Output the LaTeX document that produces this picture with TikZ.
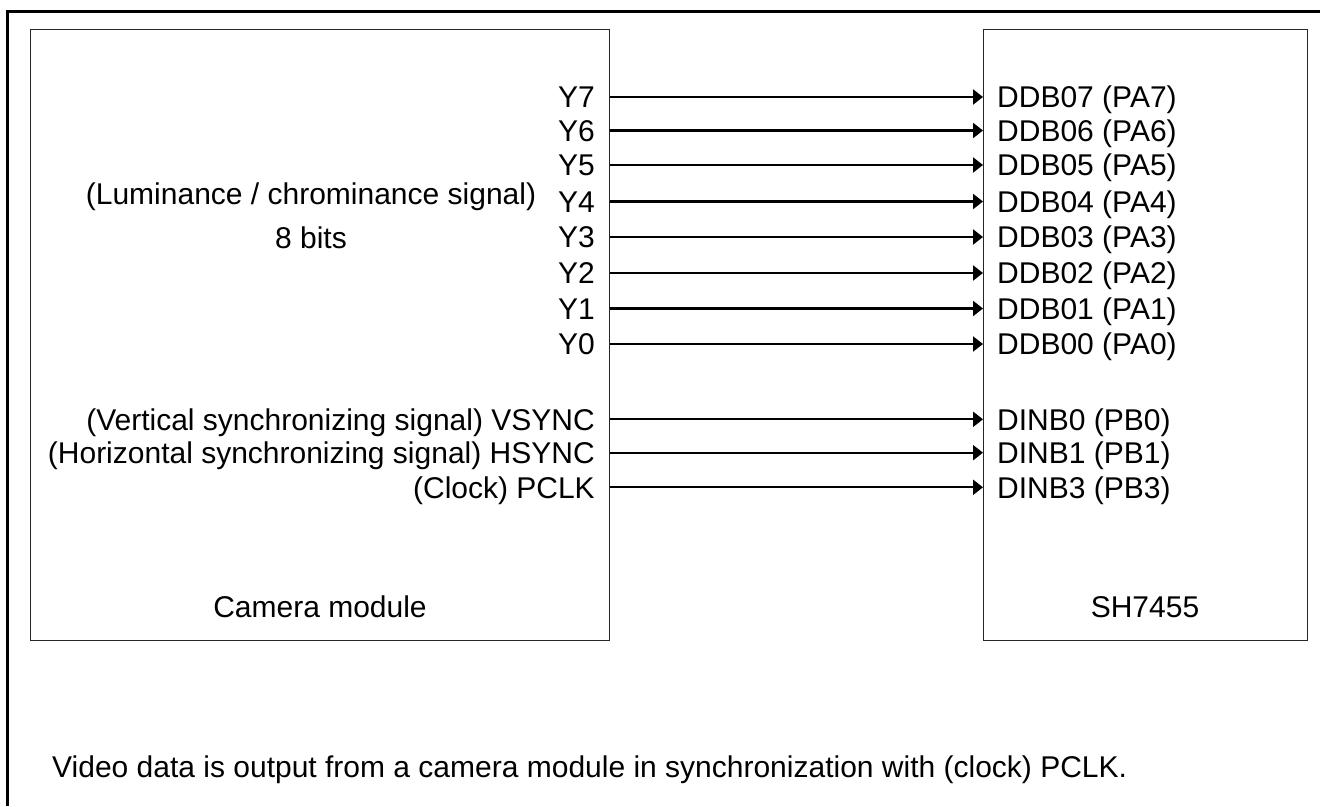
\documentclass[tikz,border=0pt]{standalone}
\usepackage{fontspec}
\setmainfont{Liberation Sans}
\usetikzlibrary{arrows.meta}
\tikzset{
  box/.style={draw=black!85, line width=1.3pt, rectangle, inner sep=0pt, anchor=north west},
  sig/.style={line width=2.2pt, -{Triangle[length=10pt,width=15pt]}},
  lab/.style={inner sep=0pt, font=\fontsize{30pt}{34pt}\selectfont},
  llab/.style={lab, anchor=base east},
  rlab/.style={lab, anchor=base west},
  frame/.style={line width=3pt, line join=miter}
}
\begin{document}
\begin{tikzpicture}[x=1pt,y=-1pt]
\useasboundingbox (0,0) rectangle (1320,806);
\draw[frame] (7.5,806) -- (7.5,11) -- (1320,11);
\node[box, minimum width=579pt, minimum height=611pt] (cam) at (30,29) {};
\node[box, minimum width=324pt, minimum height=611pt] (sh) at (983,29) {};
\node[lab, anchor=base] (lum) at (311,204) {(Luminance / chrominance signal)};
\node[lab, anchor=base] (bits) at (311,248) {8 bits};
\node[lab, anchor=base] (camlab) at (320,617) {Camera module};
\node[lab, anchor=base] (shlab) at (1145,617) {SH7455};
\node[lab, anchor=base west] (note) at (52,777) {Video data is output from a camera module in synchronization with (clock) PCLK.};
\foreach \n/\y/\l/\r in {7/97/Y7/DDB07 (PA7), 6/130.5/Y6/DDB06 (PA6), 5/165/Y5/DDB05 (PA5), 4/201.5/Y4/DDB04 (PA4), 3/237/Y3/DDB03 (PA3), 2/273/Y2/DDB02 (PA2), 1/308.5/Y1/DDB01 (PA1), 0/344/Y0/DDB00 (PA0), v/419.3/(Vertical synchronizing signal) VSYNC/DINB0 (PB0), h/452.7/(Horizontal synchronizing signal) HSYNC/DINB1 (PB1), c/487.3/(Clock) PCLK/DINB3 (PB3)} {
  \coordinate (p\n) at (0,\y);
  \node[llab] (l\n) at (595,\y+10.7) {\l};
  \node[rlab] (r\n) at (997,\y+10.7) {\r};
  \draw[sig] (cam.east |- p\n) -- (sh.west |- p\n);
}
\end{tikzpicture}
\end{document}
